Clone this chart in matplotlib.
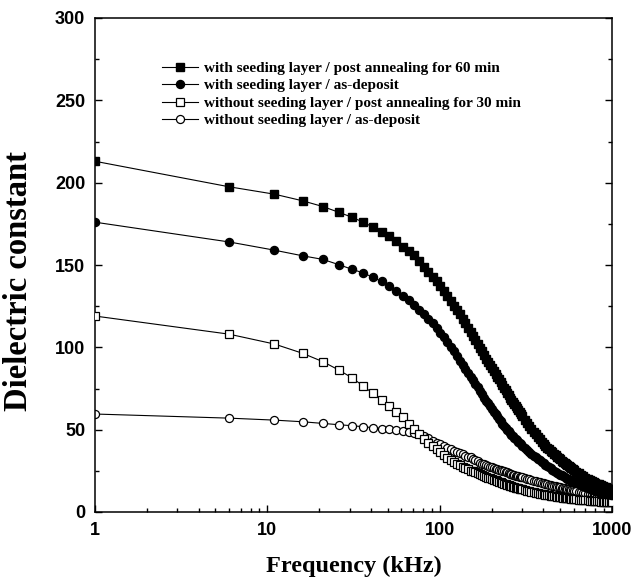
import matplotlib
matplotlib.use("Agg")
import matplotlib.pyplot as plt
from matplotlib.ticker import FixedLocator, NullFormatter, FixedFormatter

freq_khz = [1, 6, 11, 16, 21, 26, 31, 36, 41, 46, 51, 56, 61, 66, 71, 76, 81, 86, 91, 96,
            101, 106, 111, 116, 121, 126, 131, 136, 141, 146, 151,
            156, 161, 166, 171, 176, 181, 186, 191, 196, 201, 206, 211, 216, 221, 226,
            231, 236, 241, 246, 251, 256, 261, 266, 271, 276, 281, 286, 291, 296, 301,
            311, 321, 331, 341, 351, 361, 371, 381, 391, 401, 411, 421, 431, 441, 451,
            461, 471, 481, 491, 501, 511, 521, 531, 541, 551, 561, 571, 581, 591, 601,
            621, 641, 661, 681, 701, 721, 741, 761, 781, 801, 821, 841, 861, 881, 901,
            921, 941, 961, 981, 996]

seed_anneal60 = [213, 197.5, 193, 189, 185.5, 182, 179, 176, 173, 170, 167.5, 164.5, 161, 158.5, 156,
                 152.5, 149, 145.5, 142.5, 140, 137.5, 134.5, 131, 128, 125, 122.5, 120, 117, 114.5, 112, 109.5,
                 107, 104.5, 102, 99.5, 97.5, 95.5, 93.2, 91, 89.2, 87.5, 85.7, 84, 82.2, 80.5, 78.7,
                 77, 75.5, 74, 72.5, 71, 69.5, 68, 66.5, 65.3, 64.2, 63, 61.8, 60.7, 59.5, 58.3,
                 56, 54, 52.3, 50.5, 48.8, 47.2, 45.5, 44.2, 42.8, 41.5, 40.2, 39, 38, 37, 36.2,
                 35.4, 34.4, 33.5, 32.7, 32, 31.2, 30.4, 29.7, 29.1, 28.5, 27.9, 27.3, 26.7, 26.1, 25.5,
                 24.3, 23.4, 22.5, 21.6, 20.8, 20.1, 19.5, 18.9, 18.4, 17.8, 17.3, 16.8, 16.4, 15.9, 15.4,
                 15, 14.6, 14.2, 13.8, 13.5]

seed_asdep = [176, 164, 159, 155.6, 153.4, 150.2, 147.4, 145.2, 142.5, 140, 137.3, 134, 131, 128.5, 126,
              122.5, 120, 117, 114.5, 111.6, 109, 106.5, 103.5, 100.5, 97.5, 94.5, 92, 89.5, 87, 84.5, 82,
              80, 78, 75.7, 73.5, 71.5, 69.5, 67.7, 66, 64.2, 62.5, 61, 59.5, 58, 56.5, 55,
              53.5, 52.2, 51, 50, 49, 48, 47, 46, 45.2, 44.3, 43.5, 42.7, 41.8, 41, 40.3,
              39, 37.6, 36.4, 35.3, 34.2, 33.2, 32.2, 31.3, 30.4, 29.5, 28.8, 28, 27.2, 26.5, 25.7,
              25, 24.4, 23.8, 23.2, 22.7, 22.2, 21.7, 21.2, 20.7, 20.2, 19.8, 19.4, 19, 18.7, 18.3,
              17.6, 16.9, 16.3, 15.8, 15.2, 14.7, 14.2, 13.8, 13.4, 13, 12.6, 12.2, 11.9, 11.6, 11.3,
              11.1, 10.9, 10.7, 10.5, 10.4]

noseed_anneal30 = [119, 108, 102, 96.4, 91.3, 86.2, 81.5, 76.5, 72, 68, 64.4, 61, 57.5, 53.5,
                   50.5, 47.3, 44.6, 42.2, 40, 38, 36.2, 34.5, 33, 31.7, 30.5, 29.4, 28.4, 27.5, 26.7, 25.9, 25.2,
                   24.6, 24, 23.4, 22.8, 22.3, 21.8, 21.3, 20.8, 20.4, 20, 19.6, 19.2, 18.8, 18.4, 18,
                   17.7, 17.3, 17, 16.6, 16.3, 16, 15.7, 15.4, 15.1, 14.8, 14.5, 14.3, 14.1, 13.9, 13.7,
                   13.3, 12.9, 12.6, 12.3, 12, 11.7, 11.4, 11.2, 11, 10.8, 10.6, 10.4, 10.2, 10, 9.8,
                   9.6, 9.5, 9.3, 9.2, 9, 8.9, 8.8, 8.6, 8.5, 8.4, 8.3, 8.2, 8.1, 8, 7.9,
                   7.7, 7.5, 7.4, 7.2, 7.1, 7, 6.9, 6.8, 6.7, 6.6, 6.5, 6.4, 6.3, 6.2, 6.1,
                   6, 6, 5.9, 5.8, 5.8]

noseed_asdep = [59.5, 57, 55.8, 54.8, 53.8, 53, 52.4, 51.8, 51.2,
                50.7, 50.3, 49.8, 49.3, 48.7, 48, 47.1, 46, 44.7, 43.4, 42.2, 41.1, 40, 39, 38.1, 37.3,
                36.5, 35.7, 35, 34.3, 33.7, 33.1,
                32.3, 31.5, 30.8, 30, 29.4, 28.9, 28.4, 28, 27.6, 27.2, 26.8, 26.4, 26, 25.7, 25.3,
                25, 24.6, 24.3, 24, 23.6, 23.2, 22.9, 22.6, 22.3, 22.1, 21.9, 21.6, 21.4, 21.2, 21,
                20.6, 20.2, 19.8, 19.4, 19, 18.7, 18.4, 18.1, 17.8, 17.5, 17.2, 16.9, 16.6, 16.3, 16,
                15.8, 15.5, 15.3, 15.1, 14.9, 14.7, 14.5, 14.3, 14.1, 13.9, 13.7, 13.5, 13.3, 13.1, 12.9,
                12.6, 12.3, 12, 11.7, 11.4, 11.1, 10.8, 10.6, 10.4, 10.2, 10, 9.8, 9.6, 9.4, 9.2,
                9, 8.8, 8.6, 8.4, 8.3]

labels = ["with seeding layer / post annealing for 60 min",
          "with seeding layer / as-deposit",
          "without seeding layer / post annealing for 30 min",
          "without seeding layer / as-deposit"]

x_ticks = [1, 10, 100, 1000]
x_tick_labels = ["1", "10", "100", "1000"]
y_ticks = [0, 50, 100, 150, 200, 250, 300]

fig = plt.figure(figsize=(6.34, 5.80), dpi=100)
ax = fig.add_axes([95/634, 1 - 512/580, (612-95)/634, (512-18)/580])

ms = 5.2
lw = 0.8
h1, = ax.plot(freq_khz, seed_anneal60, '-', color='black', lw=lw, marker='s', ms=ms,
              mfc='black', mec='black', zorder=5, label=labels[0])
h2, = ax.plot(freq_khz, seed_asdep, '-', color='black', lw=lw, marker='o', ms=ms+0.6,
              mfc='black', mec='black', zorder=4, label=labels[1])
h3, = ax.plot(freq_khz, noseed_anneal30, '-', color='black', lw=lw, marker='s', ms=ms,
              mfc='white', mec='black', mew=0.9, zorder=3, label=labels[2])
h4, = ax.plot(freq_khz, noseed_asdep, '-', color='black', lw=lw, marker='o', ms=ms+0.6,
              mfc='white', mec='black', mew=0.9, zorder=2, label=labels[3])

ax.set_xscale('log')
ax.set_xlim(1, 1000)
ax.set_ylim(0, 300)
ax.xaxis.set_major_locator(FixedLocator(x_ticks))
ax.xaxis.set_major_formatter(FixedFormatter(x_tick_labels))
minors = [m * d for d in (1, 10, 100) for m in range(2, 10)]
ax.xaxis.set_minor_locator(FixedLocator(minors))
ax.xaxis.set_minor_formatter(NullFormatter())
ax.yaxis.set_major_locator(FixedLocator(y_ticks))
ax.yaxis.set_minor_locator(FixedLocator([25, 75, 125, 175, 225, 275]))

ax.tick_params(axis='both', which='major', direction='in', length=5, width=1,
               labelsize=13, pad=7)
ax.tick_params(axis='both', which='minor', direction='in', length=3, width=1)
ax.tick_params(axis='y', which='both', right=True)
for lab in ax.get_xticklabels() + ax.get_yticklabels():
    lab.set_fontfamily('Liberation Sans')
    lab.set_fontweight('bold')
for s in ax.spines.values():
    s.set_linewidth(1.1)

ax.set_xlabel("Frequency (kHz)", fontfamily='Liberation Serif', fontweight='bold',
              fontsize=17.5, labelpad=12)
ax.set_ylabel("Dielectric constant", fontfamily='Liberation Serif', fontweight='bold',
              fontsize=23.5, labelpad=10)
ax.yaxis.set_label_coords(-0.118, 0.468)

leg = ax.legend(handles=[h1, h2, h3, h4], loc='upper left', bbox_to_anchor=(0.117, 0.925),
                frameon=False, prop={'family': 'Liberation Serif', 'weight': 'bold', 'size': 11},
                handlelength=2.4, handletextpad=0.4, labelspacing=0.25, borderaxespad=0)

fig.savefig("out.png", dpi=100)
